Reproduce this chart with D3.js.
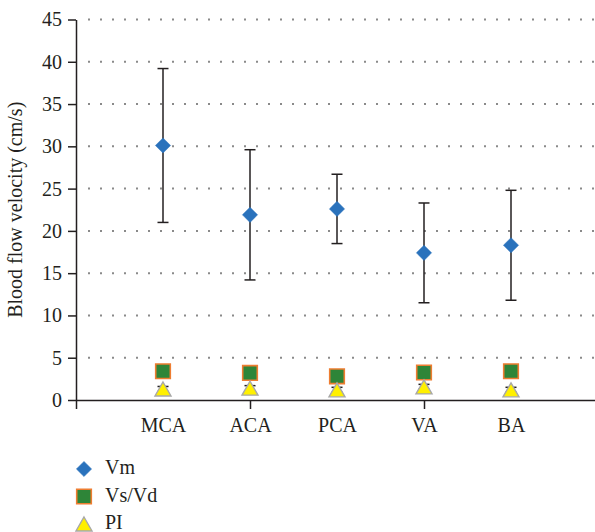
<!DOCTYPE html>
<html>
<head>
<meta charset="utf-8">
<script src="https://cdn.jsdelivr.net/npm/d3@7"></script>
<style>
  html, body { margin: 0; padding: 0; background: #fff; }
  svg { display: block; }
  text { font-family: "Liberation Serif", "Times New Roman", serif; fill: #231f20; }
</style>
</head>
<body>
<svg id="chart" width="595" height="532"></svg>
<script>
// Cerebral arteries measured
const categories = ["MCA", "ACA", "PCA", "VA", "BA"];

// Mean blood flow velocity (cm/s) with standard deviation
const vmMean = [30.1, 21.9, 22.6, 17.4, 18.3];
const vmSD   = [9.1, 7.7, 4.1, 5.9, 6.5];

// Systolic/diastolic velocity ratio
const vsvdMean = [3.4, 3.2, 2.8, 3.25, 3.4];

// Pulsatility index with standard deviation
const piMean = [1.3, 1.4, 1.2, 1.55, 1.2];
const piSD   = [0.3, 0.3, 0.3, 0.3, 0.3];

const yTicks = [0, 5, 10, 15, 20, 25, 30, 35, 40, 45];
const legendLabels = ["Vm", "Vs/Vd", "PI"];

const svg = d3.select("#chart");
const plotLeft = 76, plotRight = 598, plotTop = 19.5, plotBottom = 400;

// Category slots 1..5 on a 0..6 index axis
const x = d3.scaleLinear().domain([0, categories.length + 1]).range([plotLeft, plotRight]);
const y = d3.scaleLinear().domain([0, 45]).range([plotBottom, plotTop]);

const ink = "#231f20";

// Dotted horizontal gridlines
svg.append("g").selectAll("line")
  .data(yTicks.filter(d => d > 0))
  .join("line")
  .attr("x1", 88).attr("x2", 595)
  .attr("y1", d => y(d)).attr("y2", d => y(d))
  .attr("stroke", "#8a8a8a").attr("stroke-width", 2)
  .attr("stroke-dasharray", "2 10");

// Y axis
const yAxis = svg.append("g")
  .attr("transform", `translate(${plotLeft},0)`)
  .call(d3.axisLeft(y).tickValues(yTicks).tickSize(8).tickSizeOuter(0).tickPadding(6));
yAxis.select(".domain").attr("stroke", ink).attr("stroke-width", 1.5);
yAxis.selectAll(".tick line").attr("stroke", ink).attr("stroke-width", 1.5);
yAxis.selectAll("text").attr("font-size", 20).attr("font-family", "Liberation Serif").attr("fill", ink);

// X axis: line with ticks every second slot
const xAxis = svg.append("g")
  .attr("transform", `translate(0,${plotBottom})`)
  .call(d3.axisBottom(x).tickValues([0, 2, 4, 6]).tickSize(9).tickSizeOuter(0).tickFormat(""));
xAxis.select(".domain").attr("stroke", ink).attr("stroke-width", 1.5);
xAxis.selectAll(".tick line").attr("stroke", ink).attr("stroke-width", 1.5);

// Category labels
const xLabels = svg.append("g")
  .attr("transform", `translate(0,${plotBottom})`)
  .call(d3.axisBottom(x).tickValues(d3.range(1, categories.length + 1))
    .tickSize(0).tickPadding(18).tickFormat(i => categories[i - 1]));
xLabels.select(".domain").remove();
xLabels.selectAll("text").attr("font-size", 20).attr("font-family", "Liberation Serif").attr("fill", ink);

// Y axis title
svg.append("text")
  .attr("transform", `translate(22,${(plotTop + plotBottom) / 2}) rotate(-90)`)
  .attr("text-anchor", "middle")
  .attr("font-size", 20)
  .text("Blood flow velocity (cm/s)");

// Marker shapes
const diamond = r => `M0,${-r}L${r},0L0,${r}L${-r},0Z`;
const square = s => `M${-s},${-s}H${s}V${s}H${-s}Z`;
const triangle = (w, h) => `M0,${-h / 2}L${w / 2},${h / 2}L${-w / 2},${h / 2}Z`;

const styles = {
  vm:   { path: diamond(7.6), fill: "#2a72bc", stroke: "#2a72bc", sw: 0.5 },
  vsvd: { path: square(7.3), fill: "#2e8538", stroke: "#ee7d31", sw: 1.6 },
  pi:   { path: triangle(16, 14), fill: "#fff000", stroke: "#a8a8a8", sw: 1.4 }
};

function errorBars(mean, sd) {
  const g = svg.append("g").attr("stroke", ink).attr("stroke-width", 1.5);
  const idx = d3.range(mean.length);
  g.selectAll("line.v").data(idx).join("line").attr("class", "v")
    .attr("x1", i => x(i + 1)).attr("x2", i => x(i + 1))
    .attr("y1", i => y(mean[i] - sd[i])).attr("y2", i => y(mean[i] + sd[i]));
  [-1, 1].forEach(sgn => {
    g.selectAll(`line.c${sgn}`).data(idx).join("line").attr("class", `c${sgn}`)
      .attr("x1", i => x(i + 1) - 5.5).attr("x2", i => x(i + 1) + 5.5)
      .attr("y1", i => y(mean[i] + sgn * sd[i])).attr("y2", i => y(mean[i] + sgn * sd[i]));
  });
}

function markers(values, st) {
  svg.append("g").selectAll("path").data(values).join("path")
    .attr("transform", (d, i) => `translate(${x(i + 1)},${y(d)})`)
    .attr("d", st.path)
    .attr("fill", st.fill).attr("stroke", st.stroke).attr("stroke-width", st.sw);
}

errorBars(vmMean, vmSD);
markers(vmMean, styles.vm);
markers(vsvdMean, styles.vsvd);
errorBars(piMean, piSD);
markers(piMean, styles.pi);

// Legend
const legend = svg.append("g");
const legendKeys = [styles.vm, styles.vsvd, styles.pi];
const legendY = [469, 496.5, 524];
legendLabels.forEach((label, i) => {
  const st = legendKeys[i];
  legend.append("path")
    .attr("transform", `translate(84,${legendY[i]})`)
    .attr("d", st.path)
    .attr("fill", st.fill).attr("stroke", st.stroke).attr("stroke-width", st.sw);
  legend.append("text")
    .attr("x", 105).attr("y", legendY[i]).attr("dy", "0.25em")
    .attr("font-size", 20)
    .text(label);
});
</script>
</body>
</html>
